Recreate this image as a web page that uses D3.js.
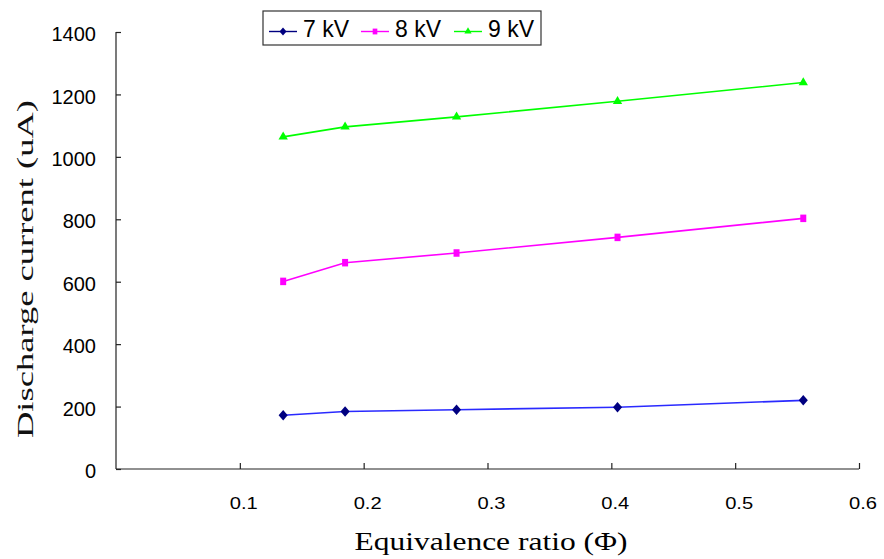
<!DOCTYPE html>
<html><head><meta charset="utf-8">
<script src="https://cdn.jsdelivr.net/npm/d3@7"></script>
<style>body{margin:0;background:#fff}svg{display:block}</style>
</head><body>
<svg id="c" width="884" height="559"></svg>
<script>
const xValues = [0.135, 0.185, 0.275, 0.405, 0.555];
const series7kV = [172, 184, 190, 198, 220];
const series8kV = [601, 661, 692, 742, 803];
const series9kV = [1064, 1096, 1128, 1178, 1238];
const seriesNames = ["7 kV", "8 kV", "9 kV"];
const xTicks = [0.1, 0.2, 0.3, 0.4, 0.5, 0.6];
const yTicks = [0, 200, 400, 600, 800, 1000, 1200, 1400];
const xTitle = "Equivalence ratio (\u03A6)";
const yTitle = "Discharge current (uA)";

const seriesStyle = [
  {line:"#2a2aff", marker:"#000080", shape:d3.symbolDiamond, size:50, sc:"scale(1.2,0.8)"},
  {line:"#ff00ff", marker:"#ff00ff", shape:d3.symbolSquare, size:36, sc:"scale(1,1.25)"},
  {line:"#00ff00", marker:"#00ff00", shape:d3.symbolTriangle, size:38, sc:""}
];
const allSeries = [series7kV, series8kV, series9kV];

const svg = d3.select("#c");
const x = d3.scaleLinear().domain([0, 0.6]).range([116, 859]);
const y = d3.scaleLinear().domain([0, 1400]).range([469, 32]);

// axes
const yAxis = d3.axisRight(y).tickValues(yTicks).tickSize(5).tickFormat("");
const gy = svg.append("g").attr("transform", `translate(${x(0)},0)`).call(yAxis);
gy.select(".domain").attr("d", `M0,${y(1400)}V${y(0)}`).attr("stroke", "#222").attr("stroke-width", 1.2);
gy.selectAll(".tick line").attr("stroke", "#222").attr("stroke-width", 1.2);

const xAxis = d3.axisTop(x).tickValues(xTicks).tickSize(6).tickFormat("");
const gx = svg.append("g").attr("transform", `translate(0,${y(0)})`).call(xAxis);
gx.select(".domain").attr("d", `M${x(0)},0H${x(0.6)}`).attr("stroke", "#222").attr("stroke-width", 1.2);
gx.selectAll(".tick line").attr("stroke", "#222").attr("stroke-width", 1.2);

// tick labels
svg.append("g").selectAll("text").data(yTicks).join("text")
  .attr("x", 96).attr("y", d => y(d) + 2).attr("dy", "0.36em")
  .attr("text-anchor", "end")
  .attr("font-family", "Liberation Sans, Arial, sans-serif")
  .attr("font-size", 20).attr("fill", "#000")
  .text(d => d);

svg.append("g").selectAll("text").data(xTicks).join("text")
  .attr("x", d => x(d) + 4).attr("y", 503).attr("dy", "0.36em")
  .attr("text-anchor", "middle")
  .attr("font-family", "Liberation Sans, sans-serif")
  .attr("font-size", 17).attr("fill", "#000")
  .attr("textLength", 28).attr("lengthAdjust", "spacingAndGlyphs")
  .text(d => d3.format(".1f")(d));

// titles
svg.append("text").attr("x", 491).attr("y", 541).attr("dy", "0.36em")
  .attr("text-anchor", "middle")
  .attr("font-family", "Liberation Serif, serif").attr("font-size", 26)
  .attr("textLength", 273).attr("lengthAdjust", "spacingAndGlyphs")
  .text(xTitle);

svg.append("text").attr("transform", "translate(24,269) rotate(-90)")
  .attr("dy", "0.36em").attr("text-anchor", "middle")
  .attr("font-family", "Liberation Serif, serif").attr("font-size", 24)
  .attr("fill", "#111")
  .attr("textLength", 338).attr("lengthAdjust", "spacingAndGlyphs")
  .text(yTitle);

// series
const line = d3.line().x((d, i) => x(xValues[i])).y(d => y(d));
allSeries.forEach((vals, k) => {
  const st = seriesStyle[k];
  svg.append("path").datum(vals).attr("d", line)
    .attr("fill", "none").attr("stroke", st.line).attr("stroke-width", 1.6);
  svg.append("g").selectAll("path").data(vals).join("path")
    .attr("transform", (d, i) => `translate(${x(xValues[i])},${y(d)}) ${st.sc}`)
    .attr("d", d3.symbol().type(st.shape).size(st.size))
    .attr("fill", st.marker);
});

// legend
const lg = svg.append("g");
lg.append("rect").attr("x", 263).attr("y", 11).attr("width", 278).attr("height", 34)
  .attr("fill", "#fff").attr("stroke", "#333").attr("stroke-width", 1.2);
const legendX = [269, 361, 454];
seriesNames.forEach((name, k) => {
  const st = seriesStyle[k];
  const lx = legendX[k];
  lg.append("line").attr("x1", lx).attr("x2", lx + 28).attr("y1", 31.5).attr("y2", 31.5)
    .attr("stroke", k === 0 ? "#000080" : st.line).attr("stroke-width", 1.4);
  lg.append("path").attr("transform", `translate(${lx + 14},31.5) ${st.sc}`)
    .attr("d", d3.symbol().type(st.shape).size(st.size * 0.6)).attr("fill", st.marker);
  lg.append("text").attr("x", lx + 34).attr("y", 28.5).attr("dy", "0.36em")
    .attr("font-family", "Liberation Sans, Arial, sans-serif").attr("font-size", 24)
    .attr("textLength", 46).attr("lengthAdjust", "spacingAndGlyphs")
    .text(name);
});
</script>
</body></html>
